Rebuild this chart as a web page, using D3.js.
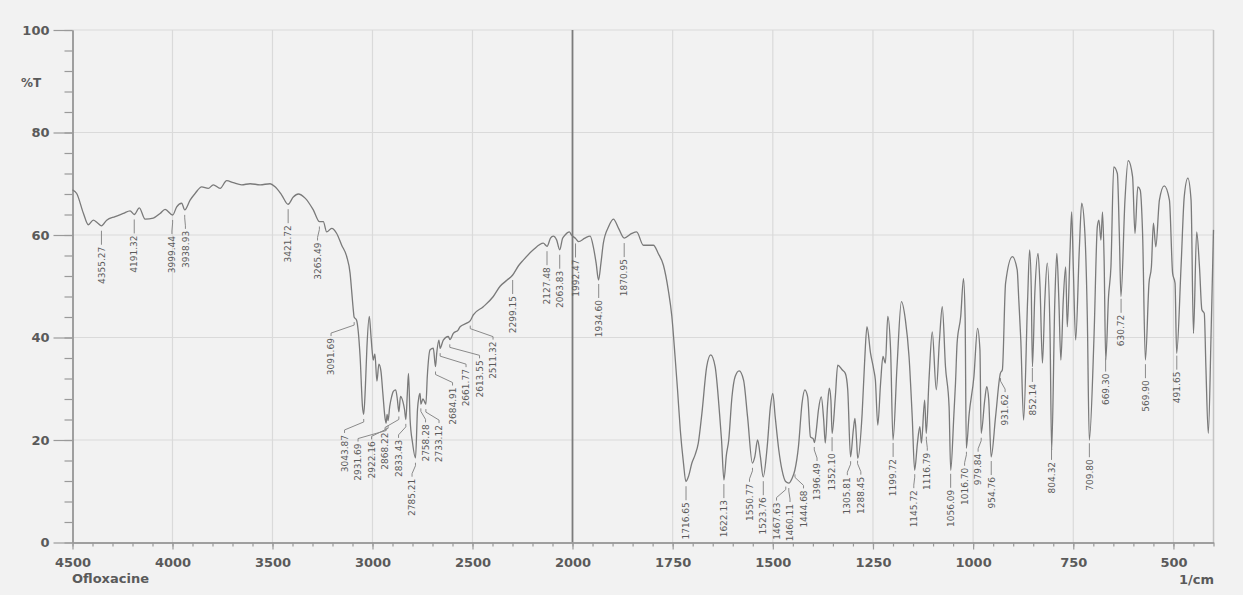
<!DOCTYPE html>
<html>
<head>
<meta charset="utf-8">
<script src="https://cdn.jsdelivr.net/npm/d3@7"></script>
<style>
    body { margin: 0; background: #f2f2f2; }
    svg { display: block; }
</style>
</head>
<body>
<svg id="chart" width="1243" height="595"></svg>
<script>
// Spectrum: wavenumber (1/cm) and %T
const wavenumbers = [
    4500, 4479, 4446, 4421, 4396, 4376, 4355, 4329, 4287, 4246, 4212, 4191, 4166, 4137, 4096, 4062, 4037, 3999,
    3979, 3954, 3939, 3912, 3887, 3854, 3821, 3796, 3762, 3729, 3696, 3654, 3612, 3562, 3512, 3487, 3454, 3422,
    3396, 3371, 3337, 3296, 3265, 3246, 3229, 3204, 3179, 3154, 3129, 3112, 3104, 3096, 3092, 3080, 3062, 3050,
    3044, 3036, 3028, 3016, 3008, 3002, 2996, 2988, 2978, 2968, 2958, 2948, 2938, 2932, 2927, 2922, 2914, 2904,
    2896, 2884, 2876, 2868, 2860, 2848, 2840, 2833, 2826, 2820, 2812, 2800, 2785, 2775, 2768, 2762, 2758, 2748,
    2740, 2733, 2726, 2712, 2696, 2685, 2679, 2668, 2662, 2646, 2621, 2613, 2596, 2571, 2562, 2529, 2511, 2496,
    2446, 2396, 2362, 2327, 2299, 2270, 2246, 2196, 2146, 2127, 2110, 2096, 2079, 2064, 2050, 2037, 2016, 2005,
    1992, 1985, 1969, 1956, 1948, 1941, 1935, 1929, 1923, 1910, 1898, 1885, 1871, 1852, 1840, 1823, 1798, 1786,
    1773, 1761, 1752, 1744, 1738, 1731, 1723, 1717, 1710, 1702, 1694, 1686, 1677, 1665, 1655, 1644, 1633, 1628,
    1622, 1616, 1610, 1602, 1594, 1584, 1573, 1563, 1551, 1545, 1538, 1531, 1524, 1514, 1506, 1500, 1494, 1485,
    1477, 1468, 1460, 1452, 1445, 1436, 1427, 1420, 1413, 1406, 1399, 1396, 1392, 1386, 1379, 1373, 1369, 1363,
    1359, 1355, 1352, 1344, 1338, 1327, 1319, 1313, 1306, 1299, 1295, 1291, 1288, 1277, 1271, 1265, 1256, 1248,
    1244, 1238, 1231, 1225, 1219, 1213, 1206, 1200, 1190, 1179, 1169, 1160, 1152, 1146, 1139, 1133, 1129, 1121,
    1117, 1110, 1102, 1092, 1084, 1077, 1069, 1060, 1056, 1048, 1044, 1040, 1031, 1024, 1020, 1017, 1010, 998,
    989, 983, 980, 971, 966, 961, 955, 944, 932, 927, 919, 902, 890, 886, 881, 874, 864, 859,
    855, 852, 846, 838, 833, 827, 821, 815, 808, 804, 796, 791, 786, 781, 775, 769, 765, 758,
    754, 750, 744, 735, 729, 721, 715, 710, 698, 690, 686, 681, 677, 673, 669, 662, 656, 649,
    640, 635, 631, 621, 613, 602, 596, 589, 583, 577, 570, 561, 555, 550, 544, 535, 523, 510,
    502, 496, 492, 481, 473, 464, 456, 450, 442, 435, 429, 423, 419, 413, 406, 400
];
const transmittance = [
    68.8, 68.1, 64.3, 62.0, 62.9, 62.4, 61.8, 62.9, 63.6, 64.2, 64.7, 64.0, 65.3, 63.1, 63.3, 64.2, 65.0, 63.9,
    65.5, 66.2, 64.9, 66.8, 68.1, 69.4, 69.1, 69.8, 69.1, 70.6, 70.2, 69.8, 70.0, 69.8, 70.0, 69.4, 67.8, 66.0,
    67.4, 68.0, 67.2, 64.9, 62.6, 62.6, 60.6, 61.3, 60.3, 58.0, 55.8, 52.5, 49.0, 45.4, 44.0, 43.4, 36.3, 26.5,
    25.0, 30.0, 38.0, 44.1, 40.5, 37.5, 35.6, 36.8, 31.5, 34.8, 33.5, 29.0, 24.5, 23.3, 25.0, 23.8, 26.5, 28.5,
    29.5, 29.8, 28.0, 25.5, 28.5, 27.5, 26.0, 24.0, 29.0, 33.0, 24.0, 19.5, 16.5, 26.0, 28.4, 29.1, 27.0, 28.0,
    27.5, 27.0, 32.4, 37.6, 37.9, 34.3, 36.9, 39.5, 37.9, 39.5, 40.2, 39.6, 40.8, 41.5, 42.1, 42.8, 43.3, 44.4,
    46.0, 48.0, 50.0, 51.2, 52.2, 54.0, 55.1, 57.1, 58.4, 57.8, 59.4, 59.8, 59.0, 57.1, 59.3, 60.0, 60.6, 60.0,
    59.3, 58.7, 59.4, 59.8, 57.7, 54.5, 51.2, 54.5, 58.4, 61.6, 63.1, 61.3, 59.4, 60.3, 60.6, 58.0, 58.0, 56.4,
    54.1, 49.3, 44.1, 36.3, 30.0, 22.0, 15.5, 11.9, 13.0, 15.5, 17.1, 19.4, 25.2, 34.3, 36.6, 34.3, 25.2, 20.0,
    12.2, 17.0, 20.0, 28.4, 32.4, 33.5, 31.7, 24.5, 15.5, 16.7, 20.0, 16.7, 12.8, 18.7, 26.5, 29.1, 24.5, 18.0,
    14.1, 11.9, 11.6, 12.5, 14.1, 18.7, 27.2, 29.8, 28.4, 20.6, 20.2, 19.5, 21.5, 25.9, 28.4, 23.9, 19.4, 27.2,
    30.1, 27.8, 21.3, 28.4, 34.6, 33.7, 33.0, 29.8, 16.7, 22.0, 24.2, 20.0, 16.4, 25.2, 35.0, 42.1, 36.9, 33.7,
    31.7, 22.9, 31.1, 36.3, 35.0, 44.1, 37.6, 20.0, 34.3, 47.0, 43.4, 36.3, 24.5, 14.1, 19.4, 22.6, 19.4, 27.8,
    21.3, 32.0, 41.1, 29.8, 39.5, 46.0, 34.3, 26.5, 14.1, 25.0, 31.1, 38.9, 44.1, 51.5, 44.0, 18.4, 25.0, 32.4,
    41.8, 37.6, 21.3, 27.8, 30.4, 27.8, 16.7, 24.5, 33.0, 33.7, 50.6, 55.8, 53.2, 47.3, 39.5, 23.9, 47.3, 57.1,
    50.0, 34.3, 48.6, 56.4, 49.9, 35.0, 47.3, 54.5, 40.8, 18.0, 47.3, 56.4, 47.3, 35.6, 47.3, 53.8, 42.1, 57.1,
    64.5, 53.8, 39.5, 57.1, 66.2, 60.3, 44.1, 20.0, 40.8, 61.6, 62.9, 59.0, 64.5, 55.0, 35.6, 48.0, 53.8, 73.3,
    72.0, 60.0, 48.0, 66.8, 74.5, 71.4, 60.3, 69.4, 68.8, 60.3, 35.6, 50.6, 53.8, 62.3, 57.7, 66.8, 69.6, 66.8,
    52.5, 50.6, 36.9, 53.8, 67.5, 71.1, 66.8, 40.8, 60.6, 53.8, 45.4, 44.7, 34.3, 21.3, 40.8, 61.0
];

// Peak picks printed under the trace
const peakLabels = [
    "4355.27", "4191.32", "3999.44", "3938.93", "3421.72", "3265.49", "3091.69", "3043.87", "2931.69",
    "2922.16", "2868.22", "2833.43", "2785.21", "2758.28", "2733.12", "2684.91", "2661.77", "2613.55",
    "2511.32", "2299.15", "2127.48", "2063.83", "1992.47", "1934.60", "1870.95", "1716.65", "1622.13",
    "1550.77", "1523.76", "1467.63", "1460.11", "1444.68", "1396.49", "1352.10", "1305.81", "1288.45",
    "1199.72", "1145.72", "1116.79", "1056.09", "1016.70", "979.84", "954.76", "931.62", "852.14",
    "804.32", "709.80", "669.30", "630.72", "569.90", "491.65"
];

// Axis ticks
const xMajorTicks = [4500, 4000, 3500, 3000, 2500, 2000, 1750, 1500, 1250, 1000, 750, 500];
const xMinorTicks = d3.range(4500, 2000, -100).concat(d3.range(2000, 399, -50));
const yMajorTicks = [0, 20, 40, 60, 80, 100];
const yMinorTicks = d3.range(0, 101, 4);
const sampleName = "Ofloxacine";
const yTitle = "%T";
const xUnit = "1/cm";

const AXIS_COLOR = "#9a9a9a";
const GRID_COLOR = "#dadada";
const TEXT_COLOR = "#5a5a5a";
const LABEL_GAP = 13.5;

const svg = d3.select("#chart");
svg.append("rect").attr("width", 1243).attr("height", 595).attr("fill", "#f2f2f2");

// the x scale changes its pitch at 2000 1/cm, like the instrument print
const x = d3.scaleLinear().domain([4500, 2000, 400]).range([72.5, 572.5, 1213.5]);
const y = d3.scaleLinear().domain([0, 100]).range([542.5, 30]);

// Grid
const grid = svg.append("g");
grid.selectAll("line.v")
    .data(xMajorTicks.filter(d => d !== 4500 && d !== 2000))
    .enter().append("line")
    .attr("x1", d => x(d)).attr("x2", d => x(d))
    .attr("y1", y(0)).attr("y2", y(100))
    .attr("stroke", GRID_COLOR).attr("stroke-width", 1.2);
grid.selectAll("line.h")
    .data(yMajorTicks.filter(d => d > 0))
    .enter().append("line")
    .attr("x1", x(4500)).attr("x2", x(400))
    .attr("y1", d => y(d)).attr("y2", d => y(d))
    .attr("stroke", GRID_COLOR).attr("stroke-width", 1.2);
grid.append("line")
    .attr("x1", x(400)).attr("x2", x(400)).attr("y1", y(0)).attr("y2", y(100))
    .attr("stroke", "#c4c4c4").attr("stroke-width", 1.5);
grid.append("line")
    .attr("x1", x(2000)).attr("x2", x(2000)).attr("y1", y(0)).attr("y2", y(100))
    .attr("stroke", "#7c7c7c").attr("stroke-width", 1.8);

// Axes
function styleAxis(g) {
    g.select(".domain").attr("stroke", AXIS_COLOR).attr("stroke-width", 1.5);
    g.selectAll(".tick line").attr("stroke", AXIS_COLOR).attr("stroke-width", 1.2);
    g.selectAll(".tick text")
        .attr("fill", TEXT_COLOR)
        .attr("font-family", "DejaVu Sans")
        .attr("font-weight", "bold")
        .attr("font-size", 13);
}
svg.append("g")
    .attr("transform", `translate(0,${y(0)})`)
    .call(d3.axisBottom(x).tickValues(xMinorTicks).tickSize(4).tickSizeOuter(0).tickFormat(""))
    .call(styleAxis);
svg.append("g")
    .attr("transform", `translate(0,${y(0)})`)
    .call(d3.axisBottom(x).tickValues(xMajorTicks).tickSize(7).tickPadding(8).tickSizeOuter(0).tickFormat(d3.format("d")))
    .call(styleAxis);
svg.append("g")
    .attr("transform", `translate(${x(4500)},0)`)
    .call(d3.axisLeft(y).tickValues(yMinorTicks).tickSize(8).tickSizeOuter(0).tickFormat(""))
    .call(styleAxis);
svg.append("g")
    .attr("transform", `translate(${x(4500)},0)`)
    .call(d3.axisLeft(y).tickValues(yMajorTicks).tickSize(19).tickPadding(4).tickSizeOuter(0))
    .call(styleAxis);

svg.append("text")
    .attr("x", 21).attr("y", 87)
    .attr("fill", TEXT_COLOR).attr("font-family", "DejaVu Sans").attr("font-weight", "bold").attr("font-size", 12)
    .text(yTitle);
svg.append("text")
    .attr("x", 72).attr("y", 583)
    .attr("fill", TEXT_COLOR).attr("font-family", "DejaVu Sans").attr("font-weight", "bold").attr("font-size", 13)
    .text(sampleName);
svg.append("text")
    .attr("x", 1214).attr("y", 584).attr("text-anchor", "end")
    .attr("fill", TEXT_COLOR).attr("font-family", "DejaVu Sans").attr("font-weight", "bold").attr("font-size", 13)
    .text(xUnit);

// Spectrum trace
const spectrum = wavenumbers.map((w, i) => [w, transmittance[i]]);
const line = d3.line()
    .curve(d3.curveMonotoneX)
    .x(d => x(d[0]))
    .y(d => y(d[1]));
svg.append("path")
    .datum(spectrum)
    .attr("d", line)
    .attr("fill", "none")
    .attr("stroke", "#7a7a7a")
    .attr("stroke-width", 1.3)
    .attr("stroke-linejoin", "round");

// %T of the trace at a given wavenumber (linear between read points)
function transmittanceAt(w) {
    for (let i = 0; i < wavenumbers.length - 1; i++) {
        if (w <= wavenumbers[i] && w >= wavenumbers[i + 1]) {
            const t = (wavenumbers[i] - w) / (wavenumbers[i] - wavenumbers[i + 1]);
            return transmittance[i] + t * (transmittance[i + 1] - transmittance[i]);
        }
    }
    return transmittance[transmittance.length - 1];
}

const peaks = peakLabels.map(s => {
    const w = +s;
    return { text: s, px: x(w), py: y(transmittanceAt(w)) };
}).sort((a, b) => a.px - b.px);

// Spread crowded labels sideways, keeping each group centred on its peaks
let clusters = peaks.map(p => ({ items: [p], center: p.px }));
let merged = true;
while (merged) {
    merged = false;
    for (let i = 0; i < clusters.length - 1; i++) {
        const a = clusters[i], b = clusters[i + 1];
        const aEnd = a.center + (a.items.length - 1) / 2 * LABEL_GAP;
        const bStart = b.center - (b.items.length - 1) / 2 * LABEL_GAP;
        if (bStart - aEnd < LABEL_GAP) {
            const items = a.items.concat(b.items);
            clusters.splice(i, 2, { items: items, center: d3.mean(items, d => d.px) });
            merged = true;
            break;
        }
    }
}
clusters.forEach(c => c.items.forEach((p, k) => {
    p.lx = c.center + (k - (c.items.length - 1) / 2) * LABEL_GAP;
}));

const labels = svg.append("g").selectAll("g").data(peaks).enter().append("g");
labels.append("path")
    .attr("d", p => Math.abs(p.lx - p.px) < 0.5
        ? `M${p.px},${p.py + 5}V${p.py + 19}`
        : `M${p.px},${p.py + 5}V${p.py + 8}L${p.lx},${p.py + 16}V${p.py + 19}`)
    .attr("fill", "none")
    .attr("stroke", "#8a8a8a")
    .attr("stroke-width", 1);
labels.append("text")
    .attr("transform", p => `translate(${p.lx},${p.py + 21}) rotate(-90)`)
    .attr("text-anchor", "end")
    .attr("dy", "0.35em")
    .attr("fill", TEXT_COLOR)
    .attr("font-family", "DejaVu Sans")
    .attr("font-size", 9)
    .text(p => p.text);
</script>
</body>
</html>
